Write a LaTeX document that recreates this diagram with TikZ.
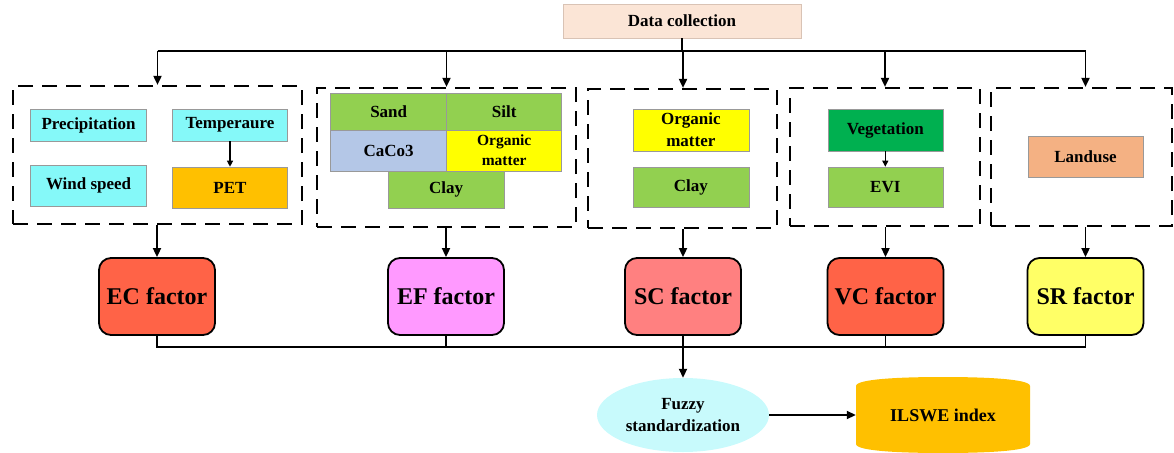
\documentclass[tikz,border=0pt]{standalone}
\usepackage{fontspec}
\setmainfont{Liberation Serif}
\usetikzlibrary{arrows.meta,shapes.geometric}
\definecolor{dcfill}{HTML}{FBE5D6}
\definecolor{dcdraw}{HTML}{D9C3B5}
\definecolor{cyanb}{HTML}{85F9F9}
\definecolor{petc}{HTML}{FFC000}
\definecolor{greenb}{HTML}{92D050}
\definecolor{cacoc}{HTML}{B4C7E7}
\definecolor{yelb}{HTML}{FFFF00}
\definecolor{vegc}{HTML}{00B050}
\definecolor{landc}{HTML}{F4B183}
\definecolor{ecc}{HTML}{FF6347}
\definecolor{efc}{HTML}{FF99FF}
\definecolor{scc}{HTML}{FF8080}
\definecolor{src}{HTML}{FFFF66}
\definecolor{fzc}{HTML}{C8FAFC}
\definecolor{ilc}{HTML}{FFC000}
\begin{document}
\begin{tikzpicture}[x=1pt,y=-1pt,
  ibox/.style={draw=black!40, line width=0.6pt, inner sep=0pt, align=center,
    font=\fontsize{17}{20}\selectfont\bfseries},
  dbox/.style={draw, dash pattern=on 15pt off 9pt, line width=2.2pt, inner sep=0pt},
  fbox/.style={draw, line width=1.8pt, rounded corners=12pt, inner sep=0pt,
    minimum width=116pt, minimum height=77pt, font=\fontsize{24}{28}\selectfont\bfseries},
  conn/.style={line width=1.8pt},
  arr/.style={conn, -{Triangle[length=9pt,width=8pt]}},
  sarr/.style={line width=1.2pt, -{Triangle[length=6pt,width=6pt]}}]
\useasboundingbox (0,0) rectangle (1174,452);

% data collection
\node[ibox, draw=dcdraw, fill=dcfill, minimum width=238pt, minimum height=34pt] (dc) at (682,21) {Data collection};

% dashed group boxes
\node[dbox, minimum width=289pt, minimum height=138pt] (b1) at (157.5,155) {};
\node[dbox, minimum width=259pt, minimum height=139pt] (b2) at (446.5,157.5) {};
\node[dbox, minimum width=189pt, minimum height=139pt] (b3) at (682.5,158.5) {};
\node[dbox, minimum width=190pt, minimum height=138pt] (b4) at (885,157) {};
\node[dbox, minimum width=181pt, minimum height=138pt] (b5) at (1081.5,157) {};

% group 1
\node[ibox, fill=cyanb, minimum width=116pt, minimum height=32pt] (prec) at (88.6,125) {Precipitation};
\node[ibox, fill=cyanb, minimum width=115pt, minimum height=32pt] (temp) at (230,125) {Temperaure};
\node[ibox, fill=cyanb, minimum width=116pt, minimum height=41pt] (wind) at (88.6,185.5) {Wind speed};
\node[ibox, fill=petc, minimum width=115pt, minimum height=41pt] (pet) at (230,187.5) {PET};
\draw[sarr] (temp.south) -- (pet.north);

% group 2
\node[ibox, fill=greenb, minimum width=116pt, minimum height=37pt] (sand) at (388.7,111.5) {Sand};
\node[ibox, fill=greenb, minimum width=115pt, minimum height=37pt] (silt) at (504.2,111.5) {Silt};
\node[ibox, fill=cacoc, minimum width=116pt, minimum height=41pt] (caco) at (388.7,150.5) {CaCo3};
\node[ibox, fill=yelb, minimum width=115pt, minimum height=41pt, font=\fontsize{15.5}{20}\selectfont\bfseries] (orgA) at (504.2,150.5) {Organic\\matter};
\node[ibox, fill=greenb, minimum width=116pt, minimum height=37pt] (clayA) at (446.2,189.5) {Clay};

% group 3
\node[ibox, fill=yelb, minimum width=116pt, minimum height=42pt, font=\fontsize{17}{22}\selectfont\bfseries] (orgB) at (690.8,130) {Organic\\matter};
\node[ibox, fill=greenb, minimum width=116pt, minimum height=40pt] (clayB) at (690.8,187) {Clay};

% group 4
\node[ibox, fill=vegc, minimum width=115pt, minimum height=42pt] (veg) at (885.3,130) {Vegetation};
\node[ibox, fill=greenb, minimum width=115pt, minimum height=40pt] (evi) at (885.3,187) {EVI};
\draw[sarr] (veg.south) -- (evi.north);

% group 5
\node[ibox, fill=landc, minimum width=115pt, minimum height=41pt] (land) at (1085.5,156.5) {Landuse};

% factors
\node[fbox, fill=ecc] (f1) at (157,296.5) {EC factor};
\node[fbox, fill=efc] (f2) at (446,296.5) {EF factor};
\node[fbox, fill=scc] (f3) at (683,296.5) {SC factor};
\node[fbox, fill=ecc] (f4) at (885.5,296.5) {VC factor};
\node[fbox, fill=src] (f5) at (1085.5,296.5) {SR factor};

% top distribution
\coordinate (hub) at (683,51);
\draw[conn] (dc.south) -- (dc.south |- hub);
\draw[conn] (b1.north |- hub) -- (f5.north |- hub);
\draw[arr] (b1.north |- hub) -- (b1.north);
\draw[arr] (b2.north |- hub) -- (b2.north);
\draw[arr] (hub) -- (hub |- b3.north);
\draw[arr] (b4.north |- hub) -- (b4.north);
\draw[arr] (f5.north |- hub) -- (f5.north |- b5.north);

% boxes to factors
\draw[arr] (f1.north |- b1.south) -- (f1.north);
\draw[arr] (f2.north |- b2.south) -- (f2.north);
\draw[arr] (f3.north |- b3.south) -- (f3.north);
\draw[arr] (f4.north |- b4.south) -- (f4.north);
\draw[arr] (f5.north |- b5.south) -- (f5.north);

% bottom collection
\node[ellipse, fill=fzc, inner sep=0pt, minimum width=172pt, minimum height=74pt, align=center,
  font=\fontsize{17}{22}\selectfont\bfseries] (fz) at (683,415) {Fuzzy\\standardization};
\coordinate (bhub) at (683,347);
\draw[conn] (f1.south) -- (f1.south |- bhub) -- (f5.south |- bhub) -- (f5.south);
\draw[conn] (f2.south) -- (f2.south |- bhub);
\draw[conn] (f4.south) -- (f4.south |- bhub);
\draw[arr] (f3.south) -- (fz.north);

% ILSWE index shape
\fill[ilc] (856,444) -- (856,386) .. controls (856,379) and (900,377) .. (943,377)
  .. controls (986,377) and (1030,379) .. (1030,386) -- (1030,444)
  .. controls (1030,451) and (986,453) .. (943,453)
  .. controls (900,453) and (856,451) .. (856,444) -- cycle;
\node[inner sep=0pt, minimum width=174pt, minimum height=74pt,
  font=\fontsize{18}{22}\selectfont\bfseries] (il) at (943,415) {ILSWE index};
\draw[arr] (fz.east) -- (il.west);
\end{tikzpicture}
\end{document}
